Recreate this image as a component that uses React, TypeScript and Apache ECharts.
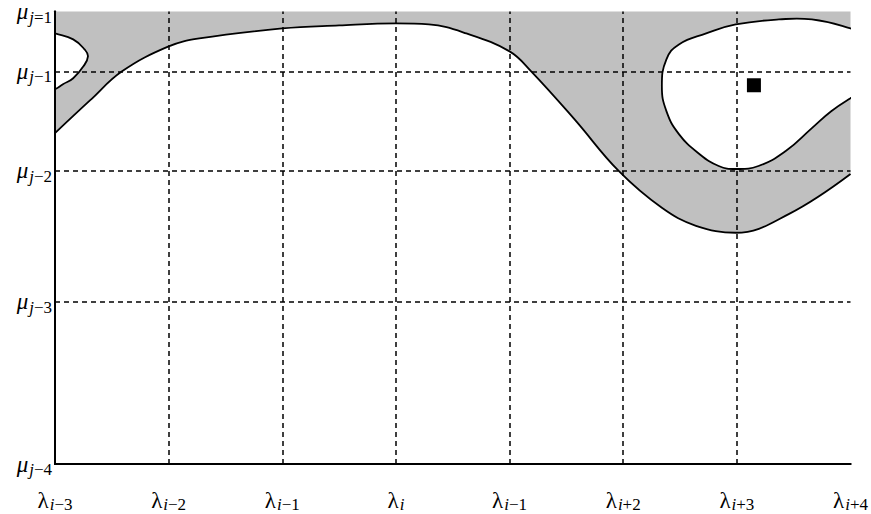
import React, { useEffect, useRef } from "react";
import * as echarts from "echarts";

// x axis: knots λ (uniform), y axis: levels μ (non-uniform)
const X_TICKS = [0, 1, 2, 3, 4, 5, 6, 7];
const X_SUBS = ["i−3", "i−2", "i−1", "i", "i−1", "i+2", "i+3", "i+4"];
const Y_TICKS = [0, 163, 294, 394, 454];
const Y_SUBS = ["j−4", "j−3", "j−2", "j−1", "j=1"];
const Y_GRID = [163, 294, 394];
const X_GRID = [1, 2, 3, 4, 5, 6];

// main boundary curve (shaded above it)
const CURVE_X = [0, 0.31, 0.59, 1.0, 1.27, 2.0, 2.5, 3.0, 3.29, 3.62, 4.0, 4.19, 4.57, 4.96, 5.34, 5.64, 5.99, 6.46, 7.0];
const CURVE_Y = [332, 365, 394, 419, 427, 437, 440, 442, 441, 432, 414, 394, 346, 294, 257, 239, 232, 251, 291];

// right island (white, touching right edge)
const ISLAND_R_X = [7.0, 6.66, 6.37, 5.99, 5.73, 5.49, 5.38, 5.34, 5.38, 5.49, 5.67, 5.84, 5.99, 6.19, 6.43, 6.66, 6.83, 7.0, 7.18, 7.22, 7.18];
const ISLAND_R_Y = [437, 446, 446, 441, 432, 421, 406, 379, 354, 331, 311, 299, 296, 299, 314, 337, 354, 367, 379, 402, 429];

// left island (white, touching left edge)
const ISLAND_L_X = [0, 0.16, 0.26, 0.29, 0.25, 0.16, 0.07, 0, -0.13, -0.22, -0.13];
const ISLAND_L_Y = [432, 426, 416, 409, 399, 387, 381, 376, 370, 404, 437];

// marked point
const POINT_X = [6.15];
const POINT_Y = [380];

const FONT = "Liberation Serif";

const rich = {
  l: { fontFamily: FONT, fontSize: 23, fontStyle: "normal", color: "#000", lineHeight: 27 },
  m: { fontFamily: FONT, fontSize: 23, fontStyle: "italic", color: "#000", lineHeight: 27 },
  si: { fontFamily: FONT, fontSize: 17, fontStyle: "italic", color: "#000", padding: [8, 0, 0, 1] },
  sn: { fontFamily: FONT, fontSize: 17, fontStyle: "normal", color: "#000", padding: [8, 0, 0, 0] },
  ti: { fontFamily: FONT, fontSize: 17, fontStyle: "italic", color: "#000", padding: [11, 0, 0, 1] },
  tn: { fontFamily: FONT, fontSize: 17, fontStyle: "normal", color: "#000", padding: [11, 0, 0, 0] },
};

function xLabel(sub: string) {
  const letter = sub.charAt(0);
  const rest = sub.slice(1);
  return `{l|λ}{si|${letter}}` + (rest ? `{sn|${rest}}` : "");
}
function yLabel(sub: string) {
  const letter = sub.charAt(0);
  const rest = sub.slice(1);
  return `{m|μ}{ti|${letter}}` + (rest ? `{tn|${rest}}` : "");
}

export default function App() {
  const ref = useRef<HTMLDivElement>(null);
  useEffect(() => {
    const chart = echarts.init(ref.current!, undefined, { renderer: "svg" });
    const curve = CURVE_X.map((x, i) => [x, CURVE_Y[i]]);
    const islandR = ISLAND_R_X.map((x, i) => [x, ISLAND_R_Y[i]]);
    const islandL = ISLAND_L_X.map((x, i) => [x, ISLAND_L_Y[i]]);
    const islandSeries = (pts: number[][]) => ({
      type: "custom",
      z: 3,
      clip: true,
      silent: true,
      data: [[0, 0]],
      renderItem: (_p: any, api: any) => ({
        type: "polygon",
        shape: { points: pts.map((p) => api.coord(p)), smooth: 0.45 },
        style: { fill: "#ffffff", stroke: "#000000", lineWidth: 1.8 },
      }),
    });
    const axisLineStyle = { show: true, lineStyle: { color: "#000", width: 2 } };
    chart.setOption({
      animation: false,
      textStyle: { fontFamily: FONT },
      grid: { left: 55, right: 19, top: 10, bottom: 50 },
      xAxis: [
        {
          type: "value",
          min: 0,
          max: 7,
          interval: 1,
          z: 10,
          axisLine: axisLineStyle,
          axisTick: { show: false },
          splitLine: { show: false },
          axisLabel: {
            margin: 23,
            fontFamily: FONT,
            fontSize: 23,
            color: "#000",
            showMinLabel: true,
            showMaxLabel: true,
            formatter: (v: number) => {
              const idx = X_TICKS.indexOf(Math.round(v));
              return idx >= 0 ? xLabel(X_SUBS[idx]) : "";
            },
            rich,
          },
        },
        {
          type: "value",
          position: "top",
          min: 0,
          max: 7,
          z: 10,
          axisLine: axisLineStyle,
          axisTick: { show: false },
          splitLine: { show: false },
          axisLabel: { show: false },
        },
      ],
      yAxis: [
        {
          type: "value",
          min: 0,
          max: 454,
          z: 10,
          axisLine: axisLineStyle,
          axisTick: { show: false },
          splitLine: { show: false },
          axisLabel: {
            margin: 3,
            fontFamily: FONT,
            fontSize: 23,
            color: "#000",
            customValues: Y_TICKS,
            showMinLabel: true,
            showMaxLabel: true,
            formatter: (v: number) => {
              const idx = Y_TICKS.indexOf(Math.round(v));
              return idx >= 0 ? yLabel(Y_SUBS[idx]) : "";
            },
            rich,
          },
        },
        {
          type: "value",
          position: "right",
          min: 0,
          max: 454,
          z: 10,
          axisLine: axisLineStyle,
          axisTick: { show: false },
          splitLine: { show: false },
          axisLabel: { show: false },
        },
      ],
      series: [
        {
          type: "line",
          z: 2,
          data: curve,
          smooth: 0.4,
          symbol: "none",
          lineStyle: { color: "#000", width: 1.8 },
          areaStyle: { origin: "end", color: "#c0c0c0", opacity: 1 },
          silent: true,
        },
        islandSeries(islandR),
        islandSeries(islandL),
        {
          type: "scatter",
          z: 6,
          data: POINT_X.map((x, i) => [x, POINT_Y[i]]),
          symbol: "rect",
          symbolSize: 14,
          itemStyle: { color: "#000", opacity: 1 },
          silent: true,
          markLine: {
            silent: true,
            symbol: ["none", "none"],
            label: { show: false },
            lineStyle: { color: "#000", width: 1.5, type: [5, 4] },
            data: [
              ...X_GRID.map((x) => ({ xAxis: x })),
              ...Y_GRID.map((y) => ({ yAxis: y })),
            ],
          },
        },
      ],
    });
    return () => chart.dispose();
  }, []);
  return <div ref={ref} style={{ width: 871, height: 514, position: "absolute", left: 0, top: 0 }} />;
}
